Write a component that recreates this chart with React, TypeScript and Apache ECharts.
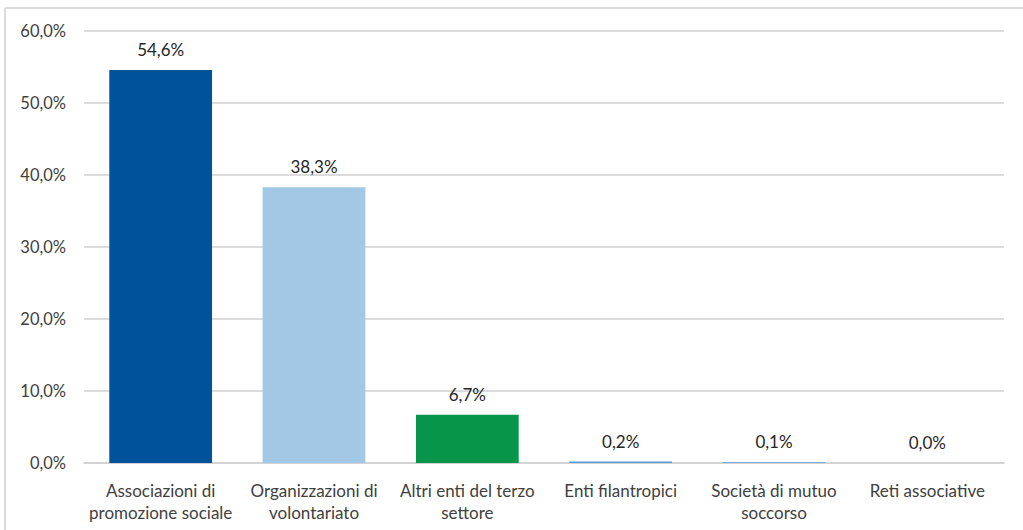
import React, { useEffect, useRef } from "react";
import * as echarts from "echarts";

const categories = [
  "Associazioni di\npromozione sociale",
  "Organizzazioni di\nvolontariato",
  "Altri enti del terzo\nsettore",
  "Enti filantropici",
  "Società di mutuo\nsoccorso",
  "Reti associative",
];
const values = [54.6, 38.3, 6.7, 0.2, 0.1, 0.0];
const barColors = ["#00529B", "#A3C8E5", "#07954A", "#5B9BD5", "#5B9BD5", "#5B9BD5"];
const yTicks = { min: 0, max: 60, interval: 10 };

const fmt = (v: number) => v.toFixed(1).replace(".", ",") + "%";

export default function App() {
  const ref = useRef<HTMLDivElement>(null);
  useEffect(() => {
    if (!ref.current) return;
    const chart = echarts.init(ref.current, undefined, { renderer: "svg" });
    const font = "Lato, 'Open Sans', sans-serif";
    chart.setOption({
      animation: false,
      backgroundColor: "#ffffff",
      grid: { left: 84, right: 19, top: 31, bottom: 67, containLabel: false },
      xAxis: {
        type: "category",
        data: categories,
        axisLine: { show: true, lineStyle: { color: "#d0d0d0", width: 1.5 } },
        axisTick: { show: false },
        axisLabel: {
          color: "#404040",
          fontFamily: font,
          fontSize: 17,
          lineHeight: 22,
          margin: 16,
          interval: 0,
        },
      },
      yAxis: {
        type: "value",
        min: yTicks.min,
        max: yTicks.max,
        interval: yTicks.interval,
        axisLine: { show: false },
        axisTick: { show: false },
        splitLine: { lineStyle: { color: "#d0d0d0", width: 1.5 } },
        axisLabel: {
          color: "#404040",
          fontFamily: font,
          fontSize: 16.5,
          margin: 18,
          formatter: (v: number) => fmt(v),
        },
      },
      series: [
        {
          type: "bar",
          data: values.map((v, i) => ({ value: v, itemStyle: { color: barColors[i] } })),
          barCategoryGap: "33%",
          label: {
            show: true,
            position: "top",
            distance: 12,
            color: "#262626",
            fontFamily: font,
            fontSize: 17,
            formatter: (p: any) => fmt(p.value),
          },
        },
      ],
      graphic: [
        {
          type: "line",
          shape: { x1: 5, y1: 8, x2: 1023, y2: 8 },
          style: { stroke: "#d0d0d0", lineWidth: 1.5 },
        },
        {
          type: "line",
          shape: { x1: 5, y1: 8, x2: 5, y2: 530 },
          style: { stroke: "#d0d0d0", lineWidth: 1.5 },
        },
      ],
    });
    return () => chart.dispose();
  }, []);
  return (
    <div
      ref={ref}
      style={{ position: "absolute", left: 0, top: 0, width: 1023, height: 530 }}
    />
  );
}
